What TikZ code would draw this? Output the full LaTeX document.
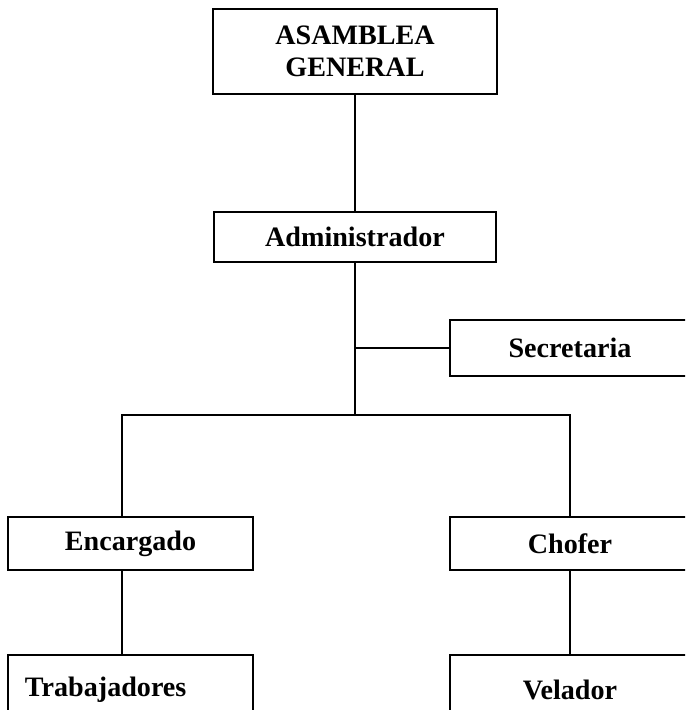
\documentclass[tikz,border=0pt]{standalone}
\usepackage{fontspec}
\setmainfont{Liberation Serif}
\begin{document}
\begin{tikzpicture}[
    node distance=3.71cm,
    every node/.style={rectangle, draw, line width=1.1pt, align=center,
      font=\bfseries\fontsize{16}{18}\selectfont},
    line width=1.1pt
  ]
  \clip (0,0) rectangle (13.7,-14.2);
  \node (AG) [minimum width=5.68cm, minimum height=1.7cm] at (7.1,-1.03) {ASAMBLEA\\GENERAL};
  \node (AD) [below of=AG, minimum width=5.64cm, minimum height=1cm] {Administrador};
  \node (SE) [below of=AD, node distance=2.22cm, xshift=4.3cm, minimum width=4.8cm, minimum height=1.12cm] {Secretaria};
  \node (EN) [below of=AD, node distance=6.13cm, xshift=-4.49cm, minimum width=4.9cm, minimum height=1.06cm] {Encargado};
  \node (CH) [right of=EN, node distance=8.79cm, minimum width=4.8cm, minimum height=1.06cm] {Chofer};
  \node (TR) [below of=EN, node distance=2.93cm, minimum width=4.9cm, minimum height=1.4cm,
    text width=4.22cm, inner xsep=0.34cm, align=left] {Trabajadores};
  \node (VE) [below of=CH, node distance=2.93cm, minimum width=4.8cm, minimum height=1.4cm] {Velador};
  \coordinate (bar) at (7.1,-8.3);
  \coordinate (L) at (2.44,-8.3);
  \coordinate (R) at (11.4,-8.3);
  \draw (AG) -- (AD);
  \draw (AD) -- (bar);
  \draw (AD.south |- SE.west) -- (SE);
  \draw (EN.north -| L) -- (L) -- (R) -- (CH);
  \draw (EN.south -| L) -- (TR.north -| L);
  \draw (CH) -- (VE);
\end{tikzpicture}
\end{document}
